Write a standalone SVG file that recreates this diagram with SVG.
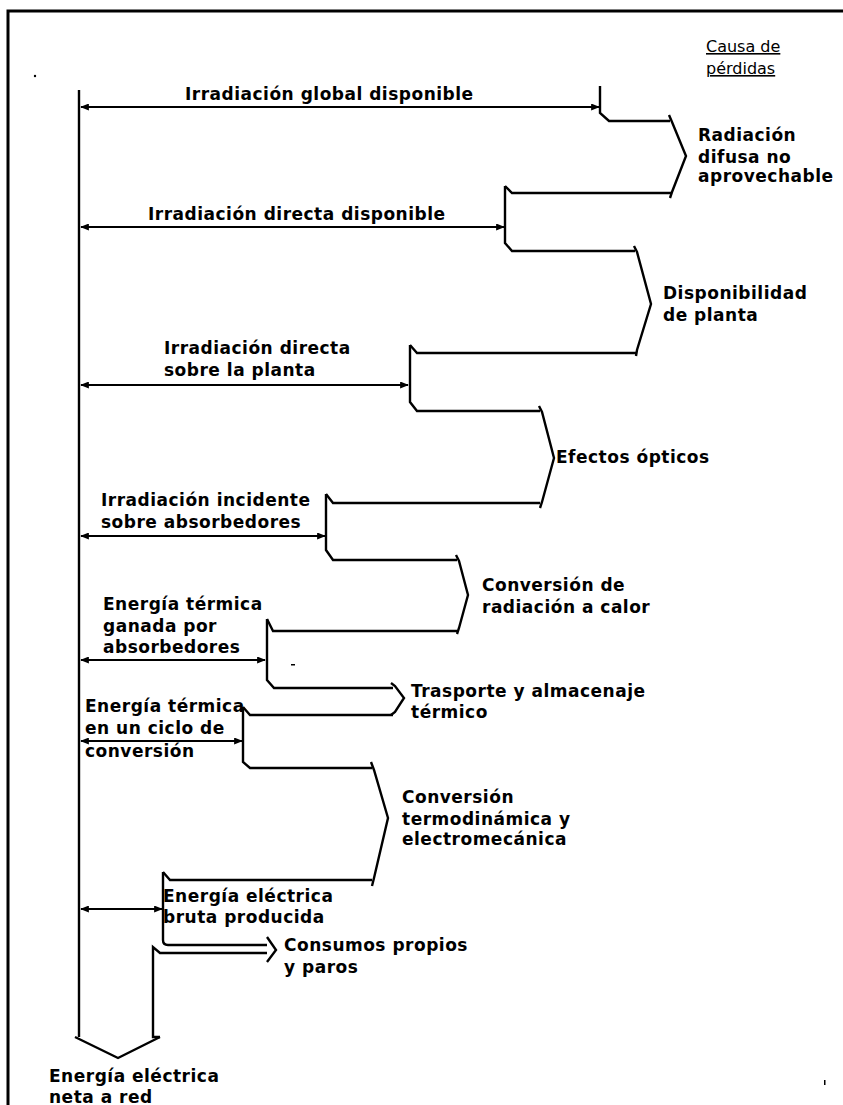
<svg xmlns="http://www.w3.org/2000/svg" width="843" height="1105" viewBox="0 0 843 1105">
<defs>
<marker id="ah" viewBox="0 0 10 8" refX="9" refY="4" markerWidth="9" markerHeight="7" markerUnits="userSpaceOnUse" orient="auto-start-reverse">
<path d="M0,0 L10,4 L0,8 Z" fill="#000"/>
</marker>
<style>
.ln{fill:none;stroke:#000;stroke-width:2.4;stroke-linejoin:miter}
.ar{fill:none;stroke:#000;stroke-width:2;marker-start:url(#ah);marker-end:url(#ah)}
.t{font-family:"DejaVu Sans",Verdana,sans-serif;font-size:17px;font-weight:bold;letter-spacing:0.5px;fill:#000}
.h{font-family:"DejaVu Sans",Verdana,sans-serif;font-size:16px;fill:#000;text-decoration:underline}
</style>
</defs>
<rect width="843" height="1105" fill="#fff"/>
<path d="M8,1105 L8,11 L843,11" fill="none" stroke="#000" stroke-width="3"/>
<circle cx="35" cy="76" r="1.2" fill="#000"/>
<rect x="291" y="664" width="4" height="1.5" fill="#000"/>
<rect x="824" y="1080" width="1.5" height="5" fill="#000"/>

<g id="header"><text class="h" x="706" y="52">Causa de</text><text class="h" x="706" y="74">pérdidas</text></g>

<g id="connectors">
<path class="ln" d="M79,90 L79,1037"/>
<path class="ar" d="M81,107 L599,107"/>
<path class="ar" d="M81,227 L504,227"/>
<path class="ar" d="M81,385 L408,385"/>
<path class="ar" d="M81,536 L325,536"/>
<path class="ar" d="M81,660 L265,660"/>
<path class="ar" d="M81,741 L242,741"/>
<path class="ar" d="M81,909 L162,909"/>
</g>

<g id="level1"><path class="ln" d="M600,86 L600,113 L609,121 L670,121"/><text class="t" x="185" y="100">Irradiación global disponible</text></g>
<g id="loss1"><path class="ln" d="M669,115 L672,122 L686,156 L672,192 L670,198"/><path class="ln" d="M671,193 L512,193 L505,186"/><text class="t" x="698" y="141">Radiación</text><text class="t" x="698" y="163">difusa no</text><text class="t" x="698" y="182">aprovechable</text></g>

<g id="level2"><path class="ln" d="M505,186 L505,243 L512,251 L635,251"/><text class="t" x="148" y="220">Irradiación directa disponible</text></g>
<g id="loss2"><path class="ln" d="M634,246 L637,252 L651,304 L637,350 L636,356"/><path class="ln" d="M636,353 L417,353 L410,345"/><text class="t" x="663" y="299">Disponibilidad</text><text class="t" x="663" y="321">de planta</text></g>

<g id="level3"><path class="ln" d="M410,345 L410,402 L417,411 L540,411"/><text class="t" x="164" y="354">Irradiación directa</text><text class="t" x="164" y="376">sobre la planta</text></g>
<g id="loss3"><path class="ln" d="M539,406 L542,412 L554,458 L542,502 L540,508"/><path class="ln" d="M540,503 L333,503 L326,494"/><text class="t" x="556" y="463">Efectos ópticos</text></g>

<g id="level4"><path class="ln" d="M326,494 L326,550 L333,560 L457,560"/><text class="t" x="101" y="506">Irradiación incidente</text><text class="t" x="101" y="528">sobre absorbedores</text></g>
<g id="loss4"><path class="ln" d="M456,555 L459,561 L468,595 L459,628 L457,634"/><path class="ln" d="M457,631 L273,631 L267,619"/><text class="t" x="482" y="591">Conversión de</text><text class="t" x="482" y="613">radiación a calor</text></g>

<g id="level5"><path class="ln" d="M267,619 L267,680 L274,688 L393,688"/><text class="t" x="103" y="610">Energía térmica</text><text class="t" x="103" y="632">ganada por</text><text class="t" x="103" y="653">absorbedores</text></g>
<g id="loss5"><path class="ln" d="M391,683 L395,686 L404,698 L395,712 L391,715"/><path class="ln" d="M393,715 L250,715 L243,707"/><text class="t" x="411" y="697">Trasporte y almacenaje</text><text class="t" x="411" y="718">térmico</text></g>

<g id="level6"><path class="ln" d="M243,707 L243,762 L250,768 L372,768"/><text class="t" x="85" y="712">Energía térmica</text><text class="t" x="85" y="734">en un ciclo de</text><text class="t" x="85" y="757">conversión</text></g>
<g id="loss6"><path class="ln" d="M371,762 L374,770 L388,818 L374,878 L372,886"/><path class="ln" d="M372,880 L170,880 L163,872"/><text class="t" x="402" y="803">Conversión</text><text class="t" x="402" y="825">termodinámica y</text><text class="t" x="402" y="845">electromecánica</text></g>

<g id="level7"><path class="ln" d="M163,872 L163,940 Q163,945 168,945 L267,945"/><text class="t" x="163" y="902">Energía eléctrica</text><text class="t" x="163" y="923">bruta producida</text></g>
<g id="loss7"><path class="ln" d="M267,937 L276,950 L267,962"/><path class="ln" d="M267,953 L160,953 L153,947 L153,1037 L160,1037"/><text class="t" x="284" y="951">Consumos propios</text><text class="t" x="284" y="973">y paros</text></g>

<g id="output"><path class="ln" d="M75,1037 L118,1058 L160,1037"/><text class="t" x="49" y="1082">Energía eléctrica</text><text class="t" x="49" y="1103">neta a red</text></g>
</svg>
